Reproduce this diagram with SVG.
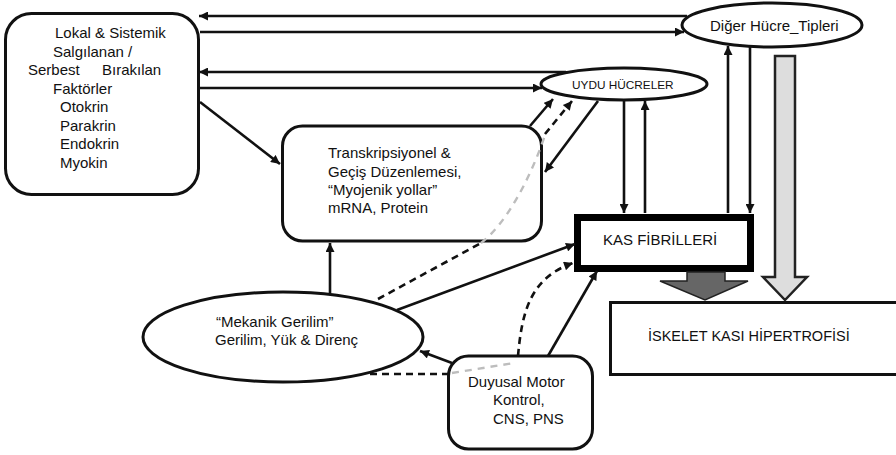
<svg xmlns="http://www.w3.org/2000/svg" width="896" height="455" viewBox="0 0 896 455">
  <style>
    .box { fill: #fff; stroke: #111; stroke-width: 3; }
    .lbl { font-family: "Liberation Sans", Arial, sans-serif; font-size: 15px; fill: #111; }
    .ln { fill: none; stroke: #111; stroke-width: 2.6; }
    .dash { fill: none; stroke: #111; stroke-width: 2.6; stroke-dasharray: 7 5; }
    .ghost { fill: none; stroke: #bdbdbd; stroke-width: 2.4; stroke-dasharray: 7 6; }
  </style>
  <defs>
    <marker id="ah" viewBox="0 0 10 10" refX="10" refY="5" markerWidth="10" markerHeight="9" markerUnits="userSpaceOnUse" orient="auto">
      <path d="M0,0 L10,5 L0,10 z" fill="#111"/>
    </marker>
  </defs>
  <rect width="896" height="455" fill="#fff"/>

  <!-- nodes -->
  <g id="faktorler">
    <rect class="box" x="5.5" y="13.5" width="193" height="181" rx="26"/>
    <text class="lbl">
      <tspan x="55" y="38">Lokal &amp; Sistemik</tspan>
      <tspan x="53" y="57">Salgılanan /</tspan>
      <tspan x="28" y="75">Serbest</tspan><tspan x="102" y="75">Bırakılan</tspan>
      <tspan x="53" y="94">Faktörler</tspan>
      <tspan x="60" y="112">Otokrin</tspan>
      <tspan x="60" y="131">Parakrin</tspan>
      <tspan x="60" y="149">Endokrin</tspan>
      <tspan x="60" y="168">Myokin</tspan>
    </text>
  </g>

  <g id="transkripsiyonel">
    <rect class="box" x="282.5" y="126" width="259" height="115" rx="20"/>
    <text class="lbl">
      <tspan x="328" y="158">Transkripsiyonel &amp;</tspan>
      <tspan x="328" y="177">Geçiş Düzenlemesi,</tspan>
      <tspan x="328" y="195">“Myojenik yollar”</tspan>
      <tspan x="328" y="213">mRNA, Protein</tspan>
    </text>
  </g>

  <g id="diger-hucre">
    <ellipse class="box" cx="772" cy="25" rx="90" ry="22"/>
    <text class="lbl" x="710" y="31">Diğer Hücre_Tipleri</text>
  </g>

  <g id="uydu-hucreler">
    <ellipse class="box" cx="624" cy="84" rx="83" ry="16"/>
    <text class="lbl" x="572" y="89" style="font-size:11.8px">UYDU HÜCRELER</text>
  </g>

  <g id="kas-fibrilleri">
    <rect x="577.5" y="217.5" width="173" height="51" fill="#fff" stroke="#000" stroke-width="7"/>
    <text class="lbl" x="603" y="245">KAS FİBRİLLERİ</text>
  </g>

  <g id="hipertrofi">
    <rect class="box" x="610.5" y="302.5" width="300" height="72"/>
    <text class="lbl" x="648" y="341" style="font-size:14.5px">İSKELET KASI HİPERTROFİSİ</text>
  </g>

  <g id="mekanik-gerilim">
    <ellipse class="box" cx="283" cy="337" rx="140" ry="45"/>
    <text class="lbl">
      <tspan x="216" y="327">“Mekanik Gerilim”</tspan>
      <tspan x="215" y="345">Gerilim, Yük &amp; Direnç</tspan>
    </text>
  </g>

  <g id="duyusal-motor">
    <rect class="box" x="448.5" y="356" width="144" height="93" rx="20"/>
    <text class="lbl">
      <tspan x="468" y="387">Duyusal Motor</tspan>
      <tspan x="493" y="405">Kontrol,</tspan>
      <tspan x="493" y="424">CNS, PNS</tspan>
    </text>
  </g>

  <!-- connectors -->
  <g id="connectors">
    <!-- factors box <-> other cell types -->
    <line class="ln" x1="687" y1="16" x2="199" y2="16" marker-end="url(#ah)"/>
    <line class="ln" x1="200" y1="32" x2="684" y2="32" marker-end="url(#ah)"/>
    <!-- factors box <-> satellite cells -->
    <line class="ln" x1="566" y1="72" x2="199" y2="72" marker-end="url(#ah)"/>
    <line class="ln" x1="200" y1="88" x2="542" y2="88" marker-end="url(#ah)"/>
    <!-- factors box -> transcription -->
    <line class="ln" x1="200" y1="102" x2="280" y2="164" marker-end="url(#ah)"/>

    <!-- transcription <-> satellite cells -->
    <line class="ln" x1="530" y1="126" x2="553" y2="99" marker-end="url(#ah)"/>
    <line class="ln" x1="598" y1="101" x2="545" y2="172" marker-end="url(#ah)"/>

    <!-- mechanical tension -> satellite cells (dashed, passes behind transcription box) -->
    <line class="dash" x1="378" y1="299" x2="481" y2="243"/>
    <path class="ghost" d="M481,243 C505,225 530,180 545,135"/>
    <path class="dash" d="M545,134 L572,101" marker-end="url(#ah)"/>

    <!-- mechanical tension -> transcription -->
    <line class="ln" x1="330" y1="293" x2="330" y2="243" marker-end="url(#ah)"/>
    <!-- mechanical tension -> muscle fibres -->
    <line class="ln" x1="397" y1="310" x2="575" y2="244" marker-end="url(#ah)"/>

    <!-- mechanical tension -> muscle fibres via sensory motor control (dashed) -->
    <line class="dash" x1="370" y1="374" x2="450" y2="374"/>
    <path class="ghost" d="M452,373 L514,363"/>
    <path class="dash" d="M518,356 C522,312 530,278 573,263" marker-end="url(#ah)"/>

    <!-- sensory motor control -> mechanical tension / muscle fibres -->
    <line class="ln" x1="452" y1="363" x2="420" y2="351" marker-end="url(#ah)"/>
    <line class="ln" x1="548" y1="356" x2="597" y2="271" marker-end="url(#ah)"/>

    <!-- satellite cells <-> muscle fibres -->
    <line class="ln" x1="624" y1="100" x2="624" y2="213" marker-end="url(#ah)"/>
    <line class="ln" x1="645" y1="213" x2="645" y2="101" marker-end="url(#ah)"/>
    <!-- other cell types <-> muscle fibres -->
    <line class="ln" x1="728" y1="213" x2="728" y2="46" marker-end="url(#ah)"/>
    <line class="ln" x1="750" y1="46" x2="750" y2="213" marker-end="url(#ah)"/>

    <!-- block arrows into hypertrophy -->
    <polygon points="687,272 725,272 725,281 748,281 705,300 660,281 687,281" fill="#666" stroke="#222" stroke-width="1.5"/>
    <polygon points="775,56 795,56 795,277 807,277 785,300 763,277 775,277" fill="#ddd" stroke="#222" stroke-width="2.5"/>
  </g>
</svg>
